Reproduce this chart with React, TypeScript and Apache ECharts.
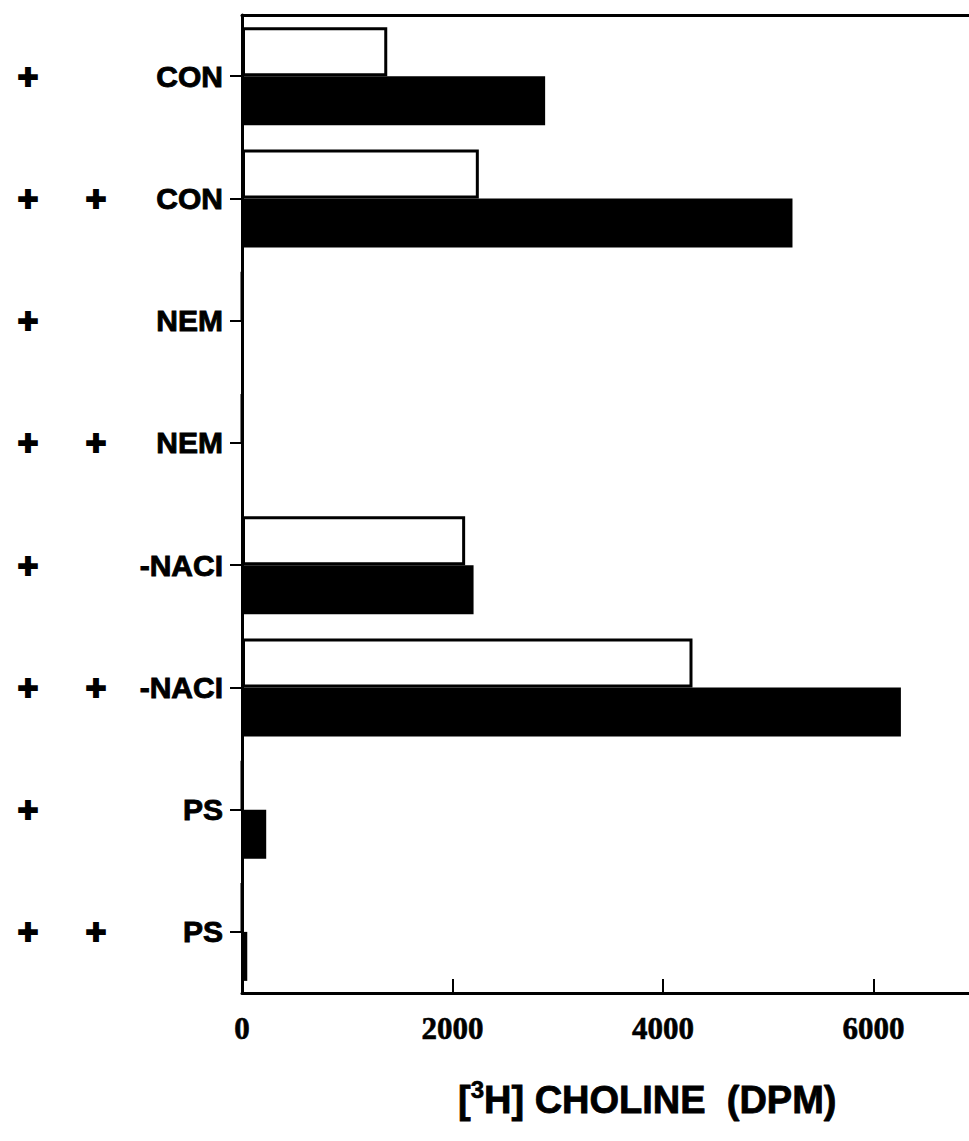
import React, { useEffect, useRef } from "react";
import * as echarts from "echarts";

const categories = ["CON", "CON", "NEM", "NEM", "-NACI", "-NACI", "PS", "PS"];
const treatmentA = ["+", "+", "+", "+", "+", "+", "+", "+"];
const treatmentB = ["", "+", "", "+", "", "+", "", "+"];
const openBars = [1380, 2250, 0, 0, 2120, 4280, 0, 0];
const filledBars = [2880, 5230, 0, 0, 2200, 6260, 230, 50];
const xTicks = [0, 2000, 4000, 6000];

export default function App() {
  const ref = useRef<HTMLDivElement>(null);
  useEffect(() => {
    if (!ref.current) return;
    const chart = echarts.init(ref.current, undefined, { renderer: "svg" });
    const sans = "Liberation Sans, Arial, sans-serif";
    const serif = "Liberation Serif, Times New Roman, serif";
    const plusLabel = {
      margin: 0,
      align: "center",
      color: "#000",
      fontFamily: sans,
      fontWeight: "bold",
      fontSize: 35,
      textBorderColor: "#000",
      textBorderWidth: 2,
      padding: [10, 0, 0, 0],
    };
    chart.setOption({
      animation: false,
      backgroundColor: "#ffffff",
      title: {
        text: "{a|[}{s|3}{a|H] CHOLINE  (DPM)}",
        left: 453,
        top: 1072,
        textStyle: {
          rich: {
            a: {
              fontFamily: sans,
              fontWeight: "bold",
              fontSize: 38,
              color: "#000",
              lineHeight: 46,
              textBorderColor: "#000",
              textBorderWidth: 0.8,
            },
            s: {
              fontFamily: sans,
              fontWeight: "bold",
              fontSize: 24,
              color: "#000",
              lineHeight: 24,
              verticalAlign: "top",
              textBorderColor: "#000",
              textBorderWidth: 0.6,
            },
          },
        },
      },
      grid: { left: 242, right: 0, top: 15, bottom: 148, containLabel: false },
      xAxis: [
        {
          type: "value",
          position: "bottom",
          min: 0,
          max: 6907,
          interval: 2000,
          splitLine: { show: false },
          axisLine: { show: true, lineStyle: { color: "#000", width: 3 } },
          axisTick: { show: true, inside: true, length: 14, lineStyle: { color: "#000", width: 2 } },
          axisLabel: {
            showMaxLabel: false,
            margin: 20,
            color: "#000",
            fontFamily: serif,
            fontWeight: "bold",
            fontSize: 31,
            textBorderColor: "#000",
            textBorderWidth: 0.6,
            formatter: (v: number) => (xTicks.includes(v) ? String(v) : ""),
          },
        },
        {
          type: "value",
          position: "top",
          min: 0,
          max: 6907,
          splitLine: { show: false },
          axisLine: { show: true, onZero: false, lineStyle: { color: "#000", width: 3 } },
          axisTick: { show: false },
          axisLabel: { show: false },
        },
      ],
      yAxis: [
        {
          type: "category",
          data: categories,
          inverse: true,
          axisLine: { show: true, onZero: false, lineStyle: { color: "#000", width: 3 } },
          axisTick: { show: true, alignWithLabel: true, length: 12, lineStyle: { color: "#000", width: 2 } },
          axisLabel: {
            margin: 19,
            color: "#000",
            fontFamily: sans,
            fontWeight: "bold",
            fontSize: 30,
            textBorderColor: "#000",
            textBorderWidth: 0.9,
          },
          splitLine: { show: false },
        },
        {
          type: "category",
          data: treatmentA,
          inverse: true,
          position: "left",
          offset: 214,
          axisLine: { show: false },
          axisTick: { show: false },
          axisLabel: plusLabel,
          splitLine: { show: false },
        },
        {
          type: "category",
          data: treatmentB,
          inverse: true,
          position: "left",
          offset: 146,
          axisLine: { show: false },
          axisTick: { show: false },
          axisLabel: plusLabel,
          splitLine: { show: false },
        },
      ],
      series: [
        {
          type: "bar",
          name: "open",
          data: openBars,
          xAxisIndex: 0,
          yAxisIndex: 0,
          barWidth: 49,
          barGap: "0%",
          itemStyle: { color: "#ffffff", borderColor: "#000", borderWidth: 3 },
        },
        {
          type: "bar",
          name: "filled",
          data: filledBars,
          xAxisIndex: 0,
          yAxisIndex: 0,
          barWidth: 49,
          barGap: "0%",
          itemStyle: { color: "#000000" },
        },
      ],
    });
    return () => chart.dispose();
  }, []);
  return (
    <div
      ref={ref}
      style={{ position: "absolute", left: 0, top: 0, width: 969, height: 1141, background: "#fff" }}
    />
  );
}
